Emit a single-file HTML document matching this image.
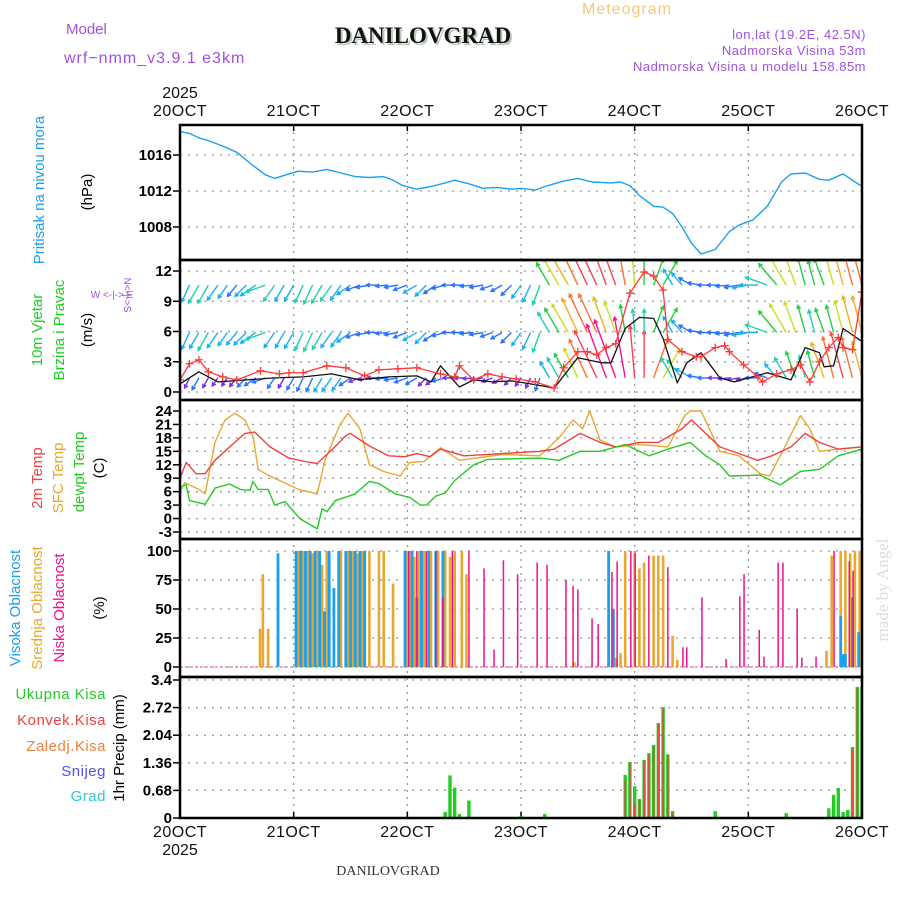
<!DOCTYPE html>
<html><head><meta charset="utf-8"><title>Meteogram DANILOVGRAD</title>
<style>
html,body{margin:0;padding:0;background:#fff;}
svg{display:block;}
text{font-family:"Liberation Sans",sans-serif;}
</style></head>
<body>
<svg id="chart" width="900" height="900" viewBox="0 0 900 900" xmlns="http://www.w3.org/2000/svg">
<g id="header">
 <text x="66" y="34" font-size="15" fill="#a050e0">Model</text>
 <text x="64" y="63" font-size="16" fill="#a050e0" letter-spacing="1">wrf−nmm_v3.9.1 e3km</text>
 <text x="425" y="45" font-size="23" font-weight="bold" fill="#b8c8b8" text-anchor="middle" style="font-family:'Liberation Serif',serif">DANILOVGRAD</text>
 <text x="423" y="43" font-size="23" font-weight="bold" fill="#111" text-anchor="middle" style="font-family:'Liberation Serif',serif">DANILOVGRAD</text>
 <text x="582" y="14" font-size="16" fill="#f5c878" letter-spacing="1">Meteogram</text>
 <text x="866" y="39" font-size="13" fill="#a050e0" text-anchor="end" letter-spacing="0.5">lon,lat (19.2E, 42.5N)</text>
 <text x="866" y="55" font-size="13" fill="#a050e0" text-anchor="end" letter-spacing="0.5">Nadmorska Visina 53m</text>
 <text x="866" y="71" font-size="13" fill="#a050e0" text-anchor="end" letter-spacing="0.5">Nadmorska Visina u modelu 158.85m</text>
 <text x="388" y="875" font-size="14" fill="#333" text-anchor="middle" style="font-family:'Liberation Serif',serif">DANILOVGRAD</text>
 <text transform="translate(888,590) rotate(-90)" font-size="17" fill="#d8e0d8" text-anchor="middle" style="font-family:'Liberation Serif',serif">made by Angel</text>
</g>
<g id="ylabels">
 <text transform="translate(44,190) rotate(-90)" font-size="15" fill="#1aa0f0" text-anchor="middle">Pritisak na nivou mora</text>
 <text transform="translate(92,192) rotate(-90)" font-size="15" fill="#000" text-anchor="middle">(hPa)</text>
 <text transform="translate(42,330) rotate(-90)" font-size="15" fill="#22cc22" text-anchor="middle">10m Vjetar</text>
 <text transform="translate(64,330) rotate(-90)" font-size="15" fill="#22cc22" text-anchor="middle">Brzina i Pravac</text>
 <text transform="translate(92,330) rotate(-90)" font-size="15" fill="#000" text-anchor="middle">(m/s)</text>
 <text transform="translate(124,295) rotate(90)" font-size="10" fill="#a050e0" text-anchor="middle">N&lt;-|-&gt;S</text>
 <text x="112" y="298" font-size="10" fill="#a050e0" text-anchor="middle">W &lt;-|-&gt; E</text>
 <text transform="translate(42,478) rotate(-90)" font-size="15" fill="#f04040" text-anchor="middle">2m Temp</text>
 <text transform="translate(63,478) rotate(-90)" font-size="15" fill="#e8a830" text-anchor="middle">SFC Temp</text>
 <text transform="translate(84,472) rotate(-90)" font-size="15" fill="#22cc22" text-anchor="middle">dewpt Temp</text>
 <text transform="translate(104,468) rotate(-90)" font-size="15" fill="#000" text-anchor="middle">(C)</text>
 <text transform="translate(20,608) rotate(-90)" font-size="15" fill="#1aa0f0" text-anchor="middle">Visoka Oblacnost</text>
 <text transform="translate(42,608) rotate(-90)" font-size="15" fill="#e8a830" text-anchor="middle">Srednja Oblacnost</text>
 <text transform="translate(64,608) rotate(-90)" font-size="15" fill="#f0108a" text-anchor="middle">Niska Oblacnost</text>
 <text transform="translate(104,608) rotate(-90)" font-size="15" fill="#000" text-anchor="middle">(%)</text>
 <text x="106" y="699" font-size="15" fill="#22cc22" text-anchor="end" letter-spacing="0.5">Ukupna  Kisa</text>
 <text x="106" y="725" font-size="15" fill="#f04040" text-anchor="end" letter-spacing="0.5">Konvek.Kisa</text>
 <text x="106" y="751" font-size="15" fill="#f08040" text-anchor="end" letter-spacing="0.5">Zaledj.Kisa</text>
 <text x="106" y="776" font-size="15" fill="#5050f0" text-anchor="end" letter-spacing="0.5">Snijeg</text>
 <text x="106" y="801" font-size="15" fill="#30c8d0" text-anchor="end" letter-spacing="0.5">Grad</text>
 <text transform="translate(124,748) rotate(-90)" font-size="15" fill="#000" text-anchor="middle">1hr Precip (mm)</text>
</g>
<g id="plot"></g>
</svg>
<script>
// ---------- DATA ----------
const dateLabels = ["20OCT","21OCT","22OCT","23OCT","24OCT","25OCT","26OCT"];
const yearLabel = "2025";

const pressTicks = [1008,1012,1016];
const pressHours = [0,2,4,6,9,12,15,18,20,23,25,28,31,34,37,40,43,45,47,50,53,56,58,61,64,67,70,72,75,77,79,81,84,87,91,93,95,97,99,100,102,104,106,108,110,113,116,118,121,124,127,129,132,135,137,140,144];
const pressVals  = [1018.6,1018.4,1017.9,1017.6,1017.0,1016.3,1015.0,1013.8,1013.4,1013.9,1014.2,1014.1,1014.4,1014.0,1013.6,1013.5,1013.6,1013.2,1012.6,1012.2,1012.5,1012.9,1013.2,1012.8,1012.3,1012.4,1012.2,1012.3,1012.1,1012.5,1012.8,1013.1,1013.4,1013.0,1012.9,1013.0,1012.6,1011.5,1010.7,1010.3,1010.2,1009.5,1008.0,1006.2,1005.0,1005.5,1007.5,1008.2,1008.8,1010.3,1013.0,1013.9,1014.0,1013.3,1013.2,1013.9,1012.5,1011.0,1010.2,1009.8,1008.7];

const windTicks = [0,3,6,9,12];
const windHours = [0,2,4,6,8,10,12,14,16,18,20,22,24,26,28,30,32,34,36,38,40,42,44,46,48,50,52,54,56,58,60,62,64,66,68,70,72,74,76,78,80,82,84,86,88,90,92,94,96,98,100,102,104,106,108,110,112,114,116,118,120,122,124,126,128,130,132,134,136,138,140,142,144];
const windDir   = [200,205,210,210,215,215,220,225,235,250,215,210,210,205,205,210,215,215,235,250,260,270,265,260,250,240,225,235,255,270,270,265,260,250,240,225,215,205,200,330,330,330,335,335,335,340,340,350,355,0,20,30,330,320,300,280,270,270,265,260,260,270,290,320,330,340,345,345,340,345,345,345,345];
const windLow   = [1.5,1.5,2,1.5,1.2,1.2,1.5,1.8,2,2,1.8,1.6,2,2.2,2.3,2.5,2.6,2.4,2,1.6,1.5,1.6,1.8,2,2,1.8,1.5,1.6,2,1.6,1.2,1.4,1.6,1.5,1.4,1.2,1.2,1.5,2,3,4,5,6,8,10,11,12,12,10,9,8,6,4,4,3,2,1.8,1.6,1.5,1.5,1.6,1.8,2,3,4,5,4,5,7,8,9,8,7];
const windMid   = [2.5,3,3,3.5,3,2.5,2.5,2.8,3,3.5,3,2.8,3,3.2,3.5,3.2,3,2.8,2.6,2.2,2,1.8,1.8,2,2.2,2.4,2.4,2.2,2,1.8,1.8,2,2,1.8,1.8,2.2,2.5,3,3.5,4,5,6,7,8,8,7,6,5,4,4,5,5,3,2.5,2.2,2,1.8,1.8,2,2.2,2.5,3,4,5,6,6,5,4,4.5,5,6,7,7];
const windTop   = [2.5,3,3.5,3.5,3,2.5,2.2,2.5,3,3.5,3.2,3,3,3.2,3.5,3.5,3.2,3,2.6,2.2,2,1.8,1.8,2,2.2,2.4,2.4,2.2,2,1.8,1.8,2,2,1.8,1.8,2.2,2.5,3,3.5,4.5,5.5,6.5,7.5,9,10,10,9,8,6,5,5,5,3,2.5,2.2,2,1.8,1.8,2,2.2,2.5,3,4,5,6,6,5,4.5,5,6,7,8,8];

const gustHours = [0,2,4,6,9,12,17,21,23,26,31,35,39,42,46,50,55,58,59,62,65,68,71,75,79,81,84,86,88,90,92,95,98,100,102,103,106,109,110,113,115,116,119,122,123,126,129,131,133,135,137,139,140,142,144];
const gustVals  = [1.2,2.8,3.2,2.0,1.5,1.2,2.1,1.8,1.9,1.9,2.6,2.4,1.6,2.2,2.3,2.4,1.8,1.5,2.6,1.2,1.8,1.5,1.3,1.0,0.4,2.4,4.0,4.0,3.7,4.4,4.8,9.8,11.9,11.5,10.1,5.2,4.0,3.5,3.5,4.4,4.6,4.0,2.7,1.5,1.0,1.8,2.2,2.7,1.0,3.0,4.4,5.4,4.4,4.2,9.9];
const speedHours= [0,4,8,14,20,26,32,38,44,50,53,55,59,62,66,70,74,79,84,89,91,94,97,100,102,105,107,110,114,117,124,129,132,135,136,138,140,144];
const speedVals = [0.8,2.0,1.0,1.2,1.4,1.5,1.8,1.2,1.5,1.6,1.0,2.6,0.5,1.2,1.0,1.1,0.8,0.4,3.4,2.9,2.9,6.3,7.4,7.3,5.3,0.9,2.9,3.9,1.4,1.0,1.9,1.2,4.4,3.9,2.5,2.6,6.3,5.0];

const tempTicks = [-3,0,3,6,9,12,15,18,21,24];
const t2Hours = [0,1.3,3.4,5.3,7.4,10.5,13.7,15.8,19,23,27.5,29,32.7,35,36,40,44,47.5,50,52.8,55,60,68,76,79,84.5,88.7,92,97,101,106,108,110,114,118,122,125,129,132,135,139,144];
const t2Vals  = [9,12.5,10,10,13,16,19,19.3,16,13.5,12.5,12.3,16,18.5,19,16.2,14,13.8,14.5,13.8,15.5,14,14.5,15,15.5,19,17,16,17,17,20,22,20,16,14.5,13,14,16,19,17,15.5,16];
const sfcHours = [0,1,4,5.3,7.4,9.5,11.6,13.7,15.5,16.5,18,21,25,29,30.6,33.8,35.5,38,40,43,46.5,48.5,51.5,55,59,68,76,80,83,85,86.5,88.7,92,97,103,106.6,107.7,110,114,118,122.5,124.5,127.7,131,133,135,139,144];
const sfcVals  = [6,8,6.5,5.5,17,22,23.5,22,18,11,10,8.5,6.5,5.5,13,21,23.5,20,12,10.5,9.5,12.5,12.7,15.8,13,14.3,14,18,22,20,24,17.5,16,16.5,16,23,24,24,15,14,10,9.5,16,23,20,15,15.5,16];
const dewHours = [0,1.3,2,5.3,7.4,10.5,12.7,14.8,15.4,16.5,18.6,20,22.2,25.3,29,30,31,32.8,37,40,42,45.5,48.6,50.7,52,54,56,58,62,65,76,80,84.5,88.7,94,99,103,107.7,111,114,116,122.5,126.7,131,135,139,144];
const dewVals  = [7,7.5,4,3.2,6.8,7.7,6.5,6.3,8.3,6.5,6.5,3,3.8,0,-2.3,2.2,1.5,4,5.5,8.3,7.8,5.5,4.7,3,3,5,5.7,8.5,12,13.2,13.5,13,15,15,16.5,14,15.5,17,14,12,9.5,9.7,7.5,10.5,11,14,15.5];

const cloudTicks = [0,25,50,75,100];
const highHours = [20.7,24.5,25.5,26.5,27.5,28.5,29.5,30.5,31.5,32.5,33.5,35,36,37,38,39,47.5,49,50,51,52.5,54,55.5,90.5,91.5,139.5,140,140.5,142,143.3];
const highVals  = [98,100,100,100,100,100,100,48,100,68,100,100,100,100,100,100,100,100,60,100,100,100,100,100,50,44,11,11,60,30];
const midHours = [16.9,17.5,18.6,20.7,25,26,27,28,29,30,31,34,35.5,36.5,37.5,38.5,40,42,43,45,48,48.5,49.5,50.5,51.5,53,54.5,56,57,58,59.5,60.5,83.3,92,93,94,96,97,98,100,101,102,104,105,136.5,137.6,139.5,140.5,141.5,142.5,143.5];
const midVals  = [33,80,33,88,100,100,100,98,100,88,100,100,100,100,98,100,100,100,100,72,100,100,95,100,100,100,100,100,95,100,100,80,4,8,12,100,100,85,90,96,96,96,27,6,14,96,100,100,98,100,100];
const lowHours = [48.3,50,52,54,55.5,57.5,61,64.2,66.3,68.3,71.3,75.4,77.5,81.5,83,84,87,88.3,91.2,92.3,95.2,96.1,99,103,106.2,107,110.2,115.3,118.2,119.1,122.3,123.3,126.3,127.3,130.3,131.3,134.3,138.1,141.3,142.1];
const lowVals  = [100,100,100,100,60,100,100,85,15,92,80,90,88,75,70,67,42,37,82,91,100,98,96,86,17,17,60,7,61,80,32,9,90,90,50,8,9,100,91,83];

const precipTicks = ["0","0.68","1.36","2.04","2.72","3.4"];
const precipHours = [56,57,58,59,61,72,77,92,93,94,95,96,97,98,99,100,101,102,103,104,113,128,137,138,139,140,141,142,143,144];
const totalRain   = [0.15,1.05,0.75,0.1,0.43,0.05,0.1,0.02,0.02,1.06,1.38,0.78,0.47,1.43,1.6,1.8,2.34,2.73,1.57,0.17,0.17,0.12,0.24,0.57,0.74,0.15,0.2,1.75,3.23,3.25];
const convRain    = [0,0,0,0,0,0,0,0,0,0.95,1.35,0.35,0.45,1.4,1.55,1.75,2.3,2.7,1.55,0.1,0,0,0,0,0,0,0,1.7,3.2,3.25];

// ---------- SCALES ----------
const NS = "http://www.w3.org/2000/svg";
const X0 = 180, X1 = 862, HMAX = 144;
const X = h => X0 + h * (X1 - X0) / HMAX;
const lin = (v0, y0, v1, y1) => v => y0 + (v - v0) * (y1 - y0) / (v1 - v0);
const yP = lin(1016, 155, 1008, 227);
const yW = lin(0, 392, 12, 271);
const yT = lin(24, 411, -3, 532);
const yC = lin(0, 667, 100, 551);
const yR = lin(0, 818, 3.4, 680);
const panels = [
  {name:"pressure", top:125, bot:260},
  {name:"wind", top:260, bot:400},
  {name:"temperature", top:400, bot:539},
  {name:"cloud", top:539, bot:677},
  {name:"precip", top:677, bot:818}
];
const plot = document.getElementById("plot");
function mk(tag, attrs, parent){
  const e = document.createElementNS(NS, tag);
  for (const k in attrs) e.setAttribute(k, attrs[k]);
  (parent || plot).appendChild(e);
  return e;
}
const defs = mk("defs", {});
panels.forEach(p => {
  const cp = mk("clipPath", {id:"clip-" + p.name}, defs);
  mk("rect", {x:X0, y:p.top, width:X1 - X0, height:p.bot - p.top}, cp);
});

// ---------- GRID ----------
function hgrid(ticks, yf, labels, name){
  ticks.forEach((t, i) => {
    const y = yf(typeof t === "string" ? parseFloat(t) : t);
    const g = mk("line", {x1:X0, x2:X1, y1:y, y2:y, stroke:"#999", "stroke-width":1.3, "stroke-dasharray":"2,6"});
    
    
    const tk = mk("line", {x1:X0 - 7, x2:X0, y1:y, y2:y, stroke:"#000", "stroke-width":1.5});
    
    
    const tx = mk("text", {x:X0 - 8, y:y + 5, "font-size":15, "text-anchor":"end", fill:"#000", "font-weight":"bold"});
    tx.textContent = labels ? labels[i] : String(t);
    
    
  });
}
hgrid(pressTicks, yP, null, "pressure");
hgrid(windTicks, yW, null, "wind");
hgrid(tempTicks, yT, null, "temp");
hgrid(cloudTicks, yC, null, "cloud");
hgrid(precipTicks, yR, precipTicks, "precip");

dateLabels.forEach((d, i) => {
  const x = X(i * 24);
  const v = mk("line", {x1:x, x2:x, y1:125, y2:818, stroke:"#999", "stroke-width":1.3, "stroke-dasharray":"2,5"});
  
  
  const t1 = mk("text", {x:x, y:116, "font-size":16, "text-anchor":"middle", fill:"#111", "letter-spacing":"0.5"});
  t1.textContent = d;
  
  
  const t2 = mk("text", {x:x, y:837, "font-size":16, "text-anchor":"middle", fill:"#111", "letter-spacing":"0.5"});
  t2.textContent = d;
  
  
  [125, 818].forEach(yy => {
    const tk = mk("line", {x1:x, x2:x, y1:yy === 125 ? 125 : 812, y2:yy === 125 ? 131 : 818, stroke:"#000", "stroke-width":1.5});
    
    
  });
});
const yr1 = mk("text", {x:X(0), y:98, "font-size":16, "text-anchor":"middle", fill:"#111"});
yr1.textContent = yearLabel;


const yr2 = mk("text", {x:X(0), y:855, "font-size":16, "text-anchor":"middle", fill:"#111"});
yr2.textContent = yearLabel;



// ---------- SERIES ----------
function line(hours, vals, yf, color, clip, name, w){
  const pts = hours.map((h, i) => X(h).toFixed(1) + "," + yf(vals[i]).toFixed(1)).join(" ");
  const p = mk("polyline", {points:pts, fill:"none", stroke:color, "stroke-width":w || 1.4, "clip-path":"url(#clip-" + clip + ")", "stroke-linejoin":"round"});
  
  
  return p;
}
line(pressHours, pressVals, yP, "#1aa0f0", "pressure", "pressure-line");

function spdColor(s){
  if (s < 1.7) return "#7a30e0";
  if (s < 2.4) return "#2a70ff";
  if (s < 3.2) return "#1ab0f0";
  if (s < 4.2) return "#20d0b0";
  if (s < 5.2) return "#20d040";
  if (s < 6.2) return "#c8e020";
  if (s < 7.5) return "#f0b020";
  if (s < 9) return "#ff7030";
  if (s < 10.5) return "#ff4050";
  return "#ff1090";
}
const windG = mk("g", {"clip-path":"url(#clip-wind)"});


function arrowRow(speeds, baseVal, name){
  windHours.forEach((h, i) => {
    const s = speeds[i], a = windDir[i] * Math.PI / 180;
    const L = 4 + s * 4.8;
    const x0 = X(h), y0 = yW(baseVal);
    const x1 = x0 + L * Math.sin(a), y1 = y0 - L * Math.cos(a);
    const c = spdColor(s);
    const hl = 4, ha = 0.5;
    const bx = Math.sin(a), by = -Math.cos(a);
    const hx1 = x1 - hl * (bx * Math.cos(ha) - by * Math.sin(ha));
    const hy1 = y1 - hl * (by * Math.cos(ha) + bx * Math.sin(ha));
    const hx2 = x1 - hl * (bx * Math.cos(-ha) - by * Math.sin(-ha));
    const hy2 = y1 - hl * (by * Math.cos(-ha) + bx * Math.sin(-ha));
    const p = mk("path", {d:`M${x0.toFixed(1)},${y0.toFixed(1)}L${x1.toFixed(1)},${y1.toFixed(1)}M${hx1.toFixed(1)},${hy1.toFixed(1)}L${x1.toFixed(1)},${y1.toFixed(1)}L${hx2.toFixed(1)},${hy2.toFixed(1)}`, stroke:c, "stroke-width":1.4, fill:"none"}, windG);
    
    
  });
}
arrowRow(windLow, 1.4, "wind-arrow-low");
arrowRow(windMid, 5.9, "wind-arrow-mid");
arrowRow(windTop, 10.6, "wind-arrow-top");
line(speedHours, speedVals, yW, "#111", "wind", "wind-speed-line", 1.3);
line(gustHours, gustVals, yW, "#ff3a3a", "wind", "wind-gust-line", 1.3);
gustHours.forEach((h, i) => {
  const x = X(h), y = yW(gustVals[i]);
  const m = mk("path", {d:`M${x-4},${y}h8M${x},${y-4}v8`, stroke:"#ff3a3a", "stroke-width":1.3, "clip-path":"url(#clip-wind)"});
  
  
});

line(sfcHours, sfcVals, yT, "#e8a830", "temperature", "sfc-temp-line");
line(t2Hours, t2Vals, yT, "#f04040", "temperature", "temp-2m-line");
line(dewHours, dewVals, yT, "#22cc22", "temperature", "dewpoint-line");

const base = mk("line", {x1:X0, x2:X1, y1:yC(0), y2:yC(0), stroke:"#e070b0", "stroke-width":1.3, "stroke-dasharray":"3,2"});


function bars(hours, vals, yf, color, w, clip, name){
  hours.forEach((h, i) => {
    const y = yf(vals[i]), y0 = yf(0);
    const r = mk("rect", {x:(X(h) - w / 2).toFixed(1), y:y.toFixed(1), width:w, height:Math.max(0, y0 - y).toFixed(1), fill:color, "clip-path":"url(#clip-" + clip + ")"});
    
    
  });
}
bars(midHours, midVals, yC, "#e8a830", 2.6, "cloud", "mid-cloud-bar");
bars(highHours, highVals, yC, "#1aa0f0", 2.8, "cloud", "high-cloud-bar");
bars(lowHours, lowVals, yC, "#f0108a", 1.5, "cloud", "low-cloud-bar");

bars(precipHours, totalRain, yR, "#22cc22", 3.4, "precip", "total-rain-bar");
bars(precipHours, convRain, yR, "#ee4444", 1.6, "precip", "convective-rain-bar");

panels.forEach(p => {
  const r = mk("rect", {x:X0, y:p.top, width:X1 - X0, height:p.bot - p.top, fill:"none", stroke:"#000", "stroke-width":2.5});
  
  
});
</script>
</body></html>
